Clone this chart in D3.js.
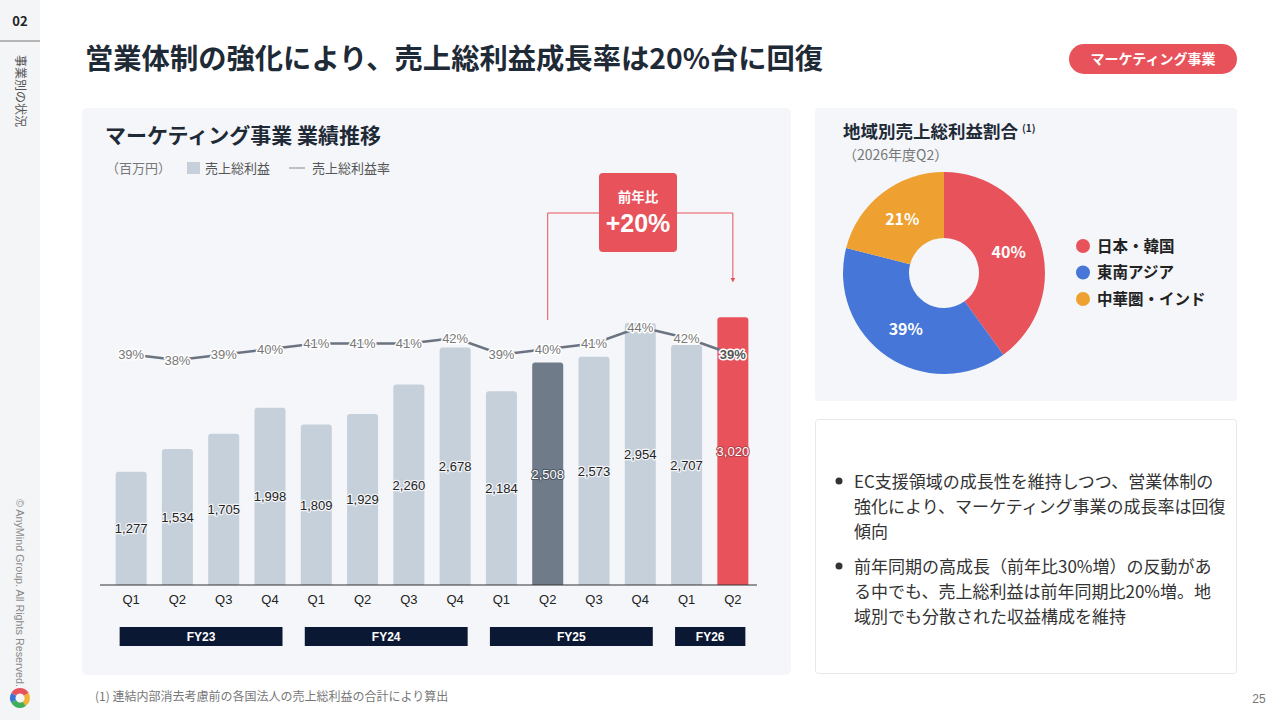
<!DOCTYPE html>
<html>
<head>
<meta charset="utf-8">
<script src="https://cdn.jsdelivr.net/npm/d3@7"></script>
<style>
  html, body { margin: 0; padding: 0; background: #fff; }
  svg { display: block; }
  text { font-family: "Noto Sans CJK JP", "Noto Sans", sans-serif; }
  .num { font-family: "Liberation Sans", Arial, sans-serif; }
</style>
</head>
<body>
<div id="content"></div>
<script>
// data
const quarters = ["Q1", "Q2", "Q3", "Q4", "Q1", "Q2", "Q3", "Q4", "Q1", "Q2", "Q3", "Q4", "Q1", "Q2"];
const grossProfit = [1277, 1534, 1705, 1998, 1809, 1929, 2260, 2678, 2184, 2508, 2573, 2954, 2707, 3020];
const grossMargin = [39, 38, 39, 40, 41, 41, 41, 42, 39, 40, 41, 44, 42, 39];
const fyLabels = ["FY23", "FY24", "FY25", "FY26"];
const fyFirst = [0, 4, 8, 12];
const fyLast = [3, 7, 11, 13];
const compareFrom = 9;   // FY25 Q2
const compareTo = 13;    // FY26 Q2
const regions = ["日本・韓国", "東南アジア", "中華圏・インド"];
const regionShare = [40, 39, 21];
const bullets = [
  ["EC支援領域の成長性を維持しつつ、営業体制の", "強化により、マーケティング事業の成長率は回復", "傾向"],
  ["前年同期の高成長（前年比30%増）の反動があ", "る中でも、売上総利益は前年同期比20%増。地", "域別でも分散された収益構成を維持"]
];

const width = 1280;
const height = 720;
const red = "#e8525b";

const svg = d3.select("#content")
  .append("svg")
  .attr("width", width)
  .attr("height", height);

// sidebar
svg.append("rect").attr("x", 0).attr("y", 0).attr("width", 40).attr("height", height).attr("fill", "#f4f5f7");
svg.append("text").attr("x", 20).attr("y", 26).attr("text-anchor", "middle")
  .attr("font-size", 13).attr("font-weight", "bold").attr("fill", "#222").text("02");
svg.append("line").attr("x1", 0).attr("x2", 40).attr("y1", 41).attr("y2", 41).attr("stroke", "#777").attr("stroke-width", 1);
svg.append("text").attr("transform", "translate(16,55) rotate(90)")
  .attr("font-size", 12).attr("fill", "#555").text("事業別の状況");
svg.append("text").attr("class", "num").attr("transform", "translate(16,499) rotate(90)")
  .attr("font-size", 10.5).attr("fill", "#8a8a8a")
  .attr("textLength", 188).attr("lengthAdjust", "spacingAndGlyphs")
  .text("© AnyMind Group. All Rights Reserved.");

// logo
const logo = svg.append("g").attr("transform", "translate(20,698)");
const logoArc = d3.arc().innerRadius(4.5).outerRadius(10);
const logoParts = [["#e8525b", -Math.PI / 3, Math.PI / 3], ["#f2b233", Math.PI / 3, Math.PI * 0.8],
  ["#3fae5a", Math.PI * 0.8, Math.PI * 1.35], ["#3b73d6", Math.PI * 1.35, Math.PI * 5 / 3]];
logo.selectAll("path").data(logoParts).join("path")
  .attr("d", d => logoArc({startAngle: d[1], endAngle: d[2]}))
  .attr("fill", d => d[0]);

// title and pill
svg.append("text").attr("x", 85).attr("y", 69).attr("font-size", 28.3).attr("font-weight", "bold")
  .attr("fill", "#1f2a37").text("営業体制の強化により、売上総利益成長率は20%台に回復");
svg.append("rect").attr("x", 1069).attr("y", 44).attr("width", 168).attr("height", 30).attr("rx", 15).attr("fill", red);
svg.append("text").attr("x", 1153).attr("y", 64).attr("text-anchor", "middle")
  .attr("font-size", 14).attr("font-weight", "bold").attr("fill", "#fff").text("マーケティング事業");

// panels
svg.append("rect").attr("x", 82).attr("y", 108).attr("width", 709).attr("height", 567).attr("rx", 5).attr("fill", "#f4f6f9");
svg.append("rect").attr("x", 815).attr("y", 108).attr("width", 422).attr("height", 293).attr("rx", 4).attr("fill", "#f4f6f9");
svg.append("rect").attr("x", 815.5).attr("y", 419.5).attr("width", 421).attr("height", 254).attr("rx", 3)
  .attr("fill", "#fff").attr("stroke", "#e6e8ec");

// chart panel headings + legend
svg.append("text").attr("x", 105).attr("y", 143).attr("font-size", 21).attr("font-weight", "bold")
  .attr("fill", "#1f2a37").text("マーケティング事業 業績推移");
const legend = svg.append("g").attr("font-size", 13).attr("fill", "#555");
legend.append("text").attr("x", 106).attr("y", 173).attr("fill", "#777").text("（百万円）");
legend.append("rect").attr("x", 187).attr("y", 162).attr("width", 13).attr("height", 12).attr("fill", "#c6d0da");
legend.append("text").attr("x", 205).attr("y", 173).text("売上総利益");
legend.append("line").attr("x1", 289).attr("x2", 305).attr("y1", 168).attr("y2", 168).attr("stroke", "#888");
legend.append("text").attr("x", 312).attr("y", 173).text("売上総利益率");

// scales
const x = d3.scaleBand()
  .domain(d3.range(quarters.length))
  .range([108, 756])
  .paddingInner(0.33)
  .paddingOuter(0.165);
const y = d3.scaleLinear().domain([0, 3000]).range([585, 319]);
const yRate = d3.scaleLinear().domain([38, 44]).range([360, 327]);

const barColor = i => i === compareTo ? red : (i === compareFrom ? "#6f7b89" : "#c6d0da");

// bars with rounded tops
const r = 3;
const barPath = (i) => {
  const x0 = x(i), x1 = x(i) + x.bandwidth(), y0 = y(0), y1 = y(grossProfit[i]);
  return `M${x0},${y0}V${y1 + r}Q${x0},${y1} ${x0 + r},${y1}H${x1 - r}Q${x1},${y1} ${x1},${y1 + r}V${y0}Z`;
};
svg.append("g").selectAll("path")
  .data(d3.range(quarters.length))
  .join("path")
  .attr("d", barPath)
  .attr("fill", barColor);

// axis
const xAxis = svg.append("g")
  .attr("transform", `translate(0,${y(0)})`)
  .call(d3.axisBottom(x).tickSize(0).tickPadding(10).tickFormat(i => quarters[i]));
xAxis.select(".domain").remove();
xAxis.selectAll("text").attr("class", "num").attr("font-size", 13).attr("fill", "#222");
svg.append("line").attr("x1", 100).attr("x2", 757).attr("y1", y(0)).attr("y2", y(0))
  .attr("stroke", "#333").attr("stroke-width", 1.2);

// value labels in the middle of bars
svg.append("g").selectAll("text")
  .data(d3.range(quarters.length))
  .join("text")
  .attr("class", "num")
  .attr("x", i => x(i) + x.bandwidth() / 2)
  .attr("y", i => (y(0) + y(grossProfit[i])) / 2 + 5)
  .attr("text-anchor", "middle")
  .attr("font-size", 13)
  .attr("paint-order", "stroke")
  .attr("stroke-linejoin", "round")
  .attr("fill", i => (i === compareFrom || i === compareTo) ? "#fff" : "#222")
  .attr("stroke", i => i === compareTo ? "#b8404a" : (i === compareFrom ? "#4b5563" : "#f2f4f7"))
  .attr("stroke-width", i => (i === compareFrom || i === compareTo) ? 2 : 2.5)
  .text(i => d3.format(",")(grossProfit[i]));

// margin line
const line = d3.line()
  .x((d, i) => x(i) + x.bandwidth() / 2)
  .y(d => yRate(d));
svg.append("path")
  .datum(grossMargin)
  .attr("d", line)
  .attr("fill", "none")
  .attr("stroke", "#6b7380")
  .attr("stroke-width", 2.5);
svg.append("g").selectAll("text")
  .data(grossMargin)
  .join("text")
  .attr("class", "num")
  .attr("x", (d, i) => x(i) + x.bandwidth() / 2)
  .attr("y", d => yRate(d) + 4.5)
  .attr("text-anchor", "middle")
  .attr("font-size", 13)
  .attr("font-weight", (d, i) => i === compareTo ? "bold" : "normal")
  .attr("fill", (d, i) => i === compareTo ? "#555" : "#777")
  .attr("stroke", "#fff")
  .attr("stroke-width", 3)
  .attr("stroke-linejoin", "round")
  .attr("paint-order", "stroke")
  .text(d => d + "%");

// fiscal year boxes
const fy = svg.append("g");
fy.selectAll("rect")
  .data(fyLabels)
  .join("rect")
  .attr("x", (d, k) => x(fyFirst[k]) + 4)
  .attr("width", (d, k) => x(fyLast[k]) + x.bandwidth() - 3 - x(fyFirst[k]) - 4)
  .attr("y", 627)
  .attr("height", 19)
  .attr("fill", "#0b1833");
fy.selectAll("text")
  .data(fyLabels)
  .join("text")
  .attr("class", "num")
  .attr("x", (d, k) => (x(fyFirst[k]) + 4 + x(fyLast[k]) + x.bandwidth() - 3) / 2)
  .attr("y", 641)
  .attr("text-anchor", "middle")
  .attr("font-size", 12)
  .attr("font-weight", "bold")
  .attr("fill", "#fff")
  .text(d => d);

// year-on-year callout
const cx0 = x(compareFrom) + x.bandwidth() / 2;
const cx1 = x(compareTo) + x.bandwidth() / 2;
svg.append("defs").append("marker")
  .attr("id", "arrow").attr("viewBox", "0 0 6 6").attr("refX", 3).attr("refY", 3)
  .attr("markerWidth", 5).attr("markerHeight", 5).attr("orient", "auto")
  .append("path").attr("d", "M0,0L6,3L0,6Z").attr("fill", red);
svg.append("path")
  .attr("d", `M${cx0},320V213H${cx1}V280`)
  .attr("fill", "none")
  .attr("stroke", red)
  .attr("stroke-width", 1)
  .attr("marker-end", "url(#arrow)");
svg.append("rect").attr("x", 599).attr("y", 173).attr("width", 78).attr("height", 79).attr("rx", 4).attr("fill", red);
svg.append("text").attr("x", 638).attr("y", 202).attr("text-anchor", "middle")
  .attr("font-size", 13.5).attr("font-weight", "bold").attr("fill", "#fff").text("前年比");
svg.append("text").attr("class", "num").attr("x", 638).attr("y", 232).attr("text-anchor", "middle")
  .attr("font-size", 25).attr("font-weight", "bold").attr("fill", "#fff").text("+20%");

// donut
svg.append("text").attr("x", 843).attr("y", 138).attr("font-size", 17.5).attr("font-weight", "bold")
  .attr("fill", "#1f2a37").text("地域別売上総利益割合");
svg.append("text").attr("x", 1022).attr("y", 132).attr("font-size", 10).attr("font-weight", "bold")
  .attr("fill", "#1f2a37").text("(1)");
svg.append("text").attr("x", 843).attr("y", 160).attr("font-size", 14).attr("fill", "#777").text("（2026年度Q2）");

const regionColor = d3.scaleOrdinal().domain(regions).range([red, "#4676d7", "#eea030"]);
const pie = d3.pie().sort(null).value(d => d.v);
const arcs = pie(regions.map((k, i) => ({k: k, v: regionShare[i]})));
const arc = d3.arc().innerRadius(35).outerRadius(101);
const donut = svg.append("g").attr("transform", "translate(944,273)");
donut.selectAll("path")
  .data(arcs)
  .join("path")
  .attr("d", arc)
  .attr("fill", d => regionColor(d.data.k));
donut.selectAll("text")
  .data(arcs)
  .join("text")
  .attr("transform", d => `translate(${arc.centroid(d)})`)
  .attr("dy", 6)
  .attr("text-anchor", "middle")
  .attr("font-size", 16)
  .attr("font-weight", "bold")
  .attr("fill", "#fff")
  .text(d => d.data.v + "%");

const pieLegend = svg.append("g").selectAll("g")
  .data(regions)
  .join("g")
  .attr("transform", (d, i) => `translate(1083,${246 + i * 26.5})`);
pieLegend.append("circle").attr("r", 7).attr("fill", d => regionColor(d));
pieLegend.append("text").attr("x", 14).attr("y", 5.5).attr("font-size", 15.5).attr("font-weight", "bold")
  .attr("fill", "#222").text(d => d);

// bullet text
const notes = svg.append("g").attr("font-size", 17).attr("fill", "#333");
bullets.forEach((lines, b) => {
  const top = 482 + b * 85;
  notes.append("circle").attr("cx", 839).attr("cy", top - 1).attr("r", 3.5).attr("fill", "#333");
  lines.forEach((t, j) => {
    notes.append("text").attr("x", 854).attr("y", top + 6 + j * 25).text(t);
  });
});

// footnote and page number
svg.append("text").attr("x", 95).attr("y", 701).attr("font-size", 12).attr("fill", "#777")
  .text("(1) 連結内部消去考慮前の各国法人の売上総利益の合計により算出");
svg.append("text").attr("class", "num").attr("x", 1259).attr("y", 703).attr("text-anchor", "middle")
  .attr("font-size", 12).attr("fill", "#777").text("25");
</script>
</body>
</html>
